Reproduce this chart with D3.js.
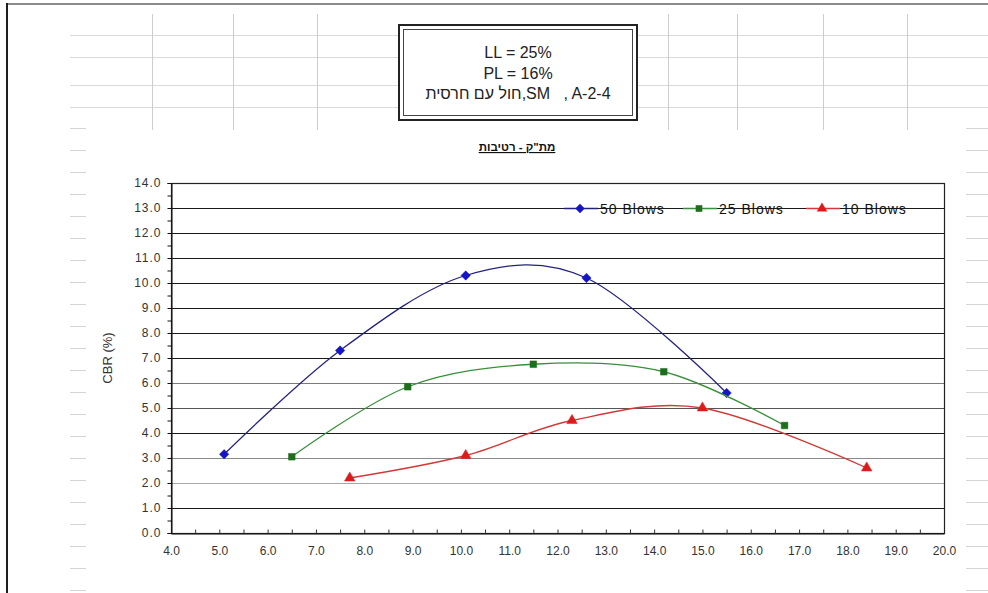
<!DOCTYPE html>
<html>
<head>
<meta charset="utf-8">
<script src="https://cdn.jsdelivr.net/npm/d3@7"></script>
<style>
  html, body { margin: 0; padding: 0; background: #fff; }
  svg { display: block; font-family: Arial, "Liberation Sans", sans-serif; }
</style>
</head>
<body>
<svg id="chart" width="988" height="593"></svg>
<script>
// Moisture content (%) and CBR (%) for each compaction effort
const moisture50 = [5.1, 7.5, 10.1, 12.6, 15.5];
const cbr50 = [3.15, 7.3, 10.3, 10.2, 5.6];
const moisture25 = [6.5, 8.9, 11.5, 14.2, 16.7];
const cbr25 = [3.05, 5.85, 6.75, 6.45, 4.3];
const moisture10 = [7.7, 10.1, 12.3, 15.0, 18.4];
const cbr10 = [2.2, 3.1, 4.5, 5.0, 2.6];
const seriesNames = ["50 Blows", "25 Blows", "10 Blows"];

const xTicks = d3.range(4, 20.01, 1);
const yTicks = d3.range(0, 14.01, 1);

const infoLines = ["LL = 25%", "PL = 16%", "חול עם חרסית,SM   , A-2-4"];
const chartTitle = "מת\"ק - רטיבות";
const yTitle = "CBR (%)";

const FONT = "Arial, 'Liberation Sans', sans-serif";
const svg = d3.select("#chart");

// ---- worksheet behind the chart object ----
const sheet = svg.append("g");
[35, 57, 85, 107].forEach(y => sheet.append("line")
  .attr("x1", 70).attr("x2", 988).attr("y1", y + 0.5).attr("y2", y + 0.5)
  .attr("stroke", "#d9d9d9"));
[152, 233, 317, 668, 737, 823, 907].forEach(x => sheet.append("line")
  .attr("x1", x + 0.5).attr("x2", x + 0.5).attr("y1", 14).attr("y2", 130)
  .attr("stroke", "#cdcdcd"));
d3.range(128, 593, 22).forEach(y => {
  sheet.append("line").attr("x1", 70).attr("x2", 86).attr("y1", y + 0.5).attr("y2", y + 0.5).attr("stroke", "#d4d4d4");
  sheet.append("line").attr("x1", 966).attr("x2", 988).attr("y1", y + 0.5).attr("y2", y + 0.5).attr("stroke", "#d4d4d4");
});

// window frame
svg.append("line").attr("x1", 6).attr("x2", 988).attr("y1", 4).attr("y2", 4)
  .attr("stroke", "#8c8c8c").attr("stroke-width", 2);
svg.append("line").attr("x1", 7).attr("x2", 7).attr("y1", 3).attr("y2", 593)
  .attr("stroke", "#1e1e1e").attr("stroke-width", 2);

// ---- soil info box ----
const box = svg.append("g");
box.append("rect").attr("x", 399).attr("y", 25).attr("width", 238).attr("height", 95)
  .attr("fill", "#fff").attr("stroke", "#222").attr("stroke-width", 2);
box.append("rect").attr("x", 403.5).attr("y", 29.5).attr("width", 229).attr("height", 86)
  .attr("fill", "none").attr("stroke", "#444").attr("stroke-width", 1);
box.selectAll("text.info").data(infoLines).join("text")
  .attr("class", "info")
  .attr("x", 518).attr("y", (d, i) => 58 + i * 20.5)
  .attr("text-anchor", "middle").attr("font-size", 16).attr("fill", "#222")
  .style("white-space", "pre")
  .text(d => d);

// ---- chart ----
const x = d3.scaleLinear().domain([4, 20]).range([171, 944]);
const y = d3.scaleLinear().domain([0, 14]).range([533, 183]);

svg.append("text")
  .attr("x", 517).attr("y", 151)
  .attr("text-anchor", "middle").attr("font-size", 11.5).attr("font-weight", "bold")
  .attr("text-decoration", "underline").attr("fill", "#111")
  .text(chartTitle);

// horizontal gridlines
const gridShade = { 2: "#a8a8a8", 3: "#8a8a8a", 5: "#555", 6: "#7a7a7a" };
svg.append("g").selectAll("line").data(yTicks.filter(v => v > 0 && v < 14)).join("line")
  .attr("x1", x(4)).attr("x2", x(20))
  .attr("y1", d => Math.round(y(d)) + 0.5).attr("y2", d => Math.round(y(d)) + 0.5)
  .attr("stroke", d => gridShade[d] || "#1a1a1a").attr("stroke-width", 1.2);

// plot border
svg.append("rect")
  .attr("x", x(4) + 0.5).attr("y", y(14) + 0.5)
  .attr("width", x(20) - x(4)).attr("height", y(0) - y(14))
  .attr("fill", "none").attr("stroke", "#222").attr("stroke-width", 1.2);

// y axis
const yAxis = d3.axisLeft(y).tickValues(yTicks).tickFormat(d3.format(".1f")).tickSize(4).tickPadding(6);
const gy = svg.append("g").attr("transform", `translate(${x(4) + 0.5},0)`).call(yAxis);
gy.select(".domain").attr("stroke", "#111");
gy.selectAll(".tick line").attr("stroke", "#111");
gy.selectAll(".tick text").attr("font-size", 12).attr("letter-spacing", 1)
  .attr("fill", "#333").attr("font-family", FONT);
svg.append("g").attr("transform", `translate(${x(4) + 0.5},0)`)
  .call(d3.axisLeft(y).tickValues(d3.range(0.5, 14, 1)).tickSize(4).tickFormat(""))
  .call(g => g.select(".domain").remove())
  .selectAll(".tick line").attr("stroke", "#111");

// x axis
const xAxis = d3.axisBottom(x).tickValues(xTicks).tickFormat(d3.format(".1f")).tickSize(0).tickPadding(13);
const gx = svg.append("g").attr("transform", `translate(0,${y(0) + 0.5})`).call(xAxis);
gx.select(".domain").attr("stroke", "#111");
gx.selectAll(".tick text").attr("font-size", 12).attr("fill", "#333").attr("font-family", FONT);
svg.append("g").attr("transform", `translate(0,${y(0) + 0.5})`)
  .call(d3.axisTop(x).tickValues(d3.range(4.5, 20, 0.5)).tickSize(4).tickFormat(""))
  .call(g => g.select(".domain").remove())
  .selectAll(".tick line").attr("stroke", "#333");

svg.append("text")
  .attr("transform", `translate(112,${(y(0) + y(14)) / 2}) rotate(-90)`)
  .attr("text-anchor", "middle").attr("font-size", 13).attr("fill", "#333")
  .text(yTitle);

// diamond drawn as a square turned 45 degrees
const diamond = {
  draw(ctx, size) {
    const r = Math.sqrt(size / 2);
    ctx.moveTo(0, -r); ctx.lineTo(r, 0); ctx.lineTo(0, r); ctx.lineTo(-r, 0); ctx.closePath();
  }
};

// series
const series = [
  { name: seriesNames[0], xs: moisture50, ys: cbr50, line: "#23237e", mark: "#1515c8", symbol: diamond, size: 44 },
  { name: seriesNames[1], xs: moisture25, ys: cbr25, line: "#3a8f3a", mark: "#1d6e1d", symbol: d3.symbolSquare, size: 44 },
  { name: seriesNames[2], xs: moisture10, ys: cbr10, line: "#d23a3a", mark: "#e01a1a", symbol: d3.symbolTriangle, size: 48 }
];

const line = d3.line().x(d => x(d[0])).y(d => y(d[1])).curve(d3.curveCardinal.tension(0));

series.forEach(s => {
  const pts = s.xs.map((v, i) => [v, s.ys[i]]);
  svg.append("path").datum(pts).attr("d", line)
    .attr("fill", "none").attr("stroke", s.line).attr("stroke-width", 1.3);
  svg.append("g").selectAll("path").data(pts).join("path")
    .attr("transform", d => `translate(${x(d[0])},${y(d[1])})`)
    .attr("d", d3.symbol().type(s.symbol).size(s.size))
    .attr("fill", s.mark).attr("stroke", s.mark).attr("stroke-width", 0.5);
});

// legend
const legendY = y(13) + 0.5;
const legendX = [564, 683, 806];
series.forEach((s, i) => {
  const g = svg.append("g").attr("transform", `translate(${legendX[i]},${legendY})`);
  g.append("line").attr("x1", 0).attr("x2", 34).attr("y1", 0).attr("y2", 0)
    .attr("stroke", s.line).attr("stroke-width", 1.5);
  g.append("path").attr("transform", "translate(16,0)")
    .attr("d", d3.symbol().type(s.symbol).size(s.size)).attr("fill", s.mark);
  g.append("text").attr("x", 36).attr("y", 5).attr("font-size", 14).attr("letter-spacing", 1)
    .attr("fill", "#111").text(s.name);
});
</script>
</body>
</html>
